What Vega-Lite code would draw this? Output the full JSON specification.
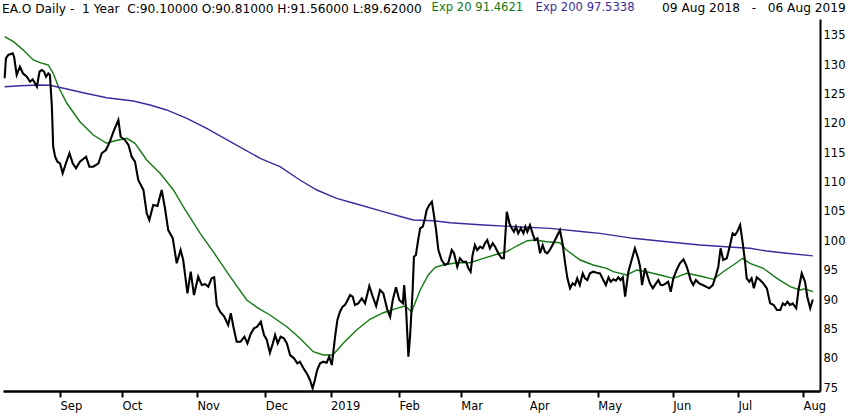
{
  "$schema": "https://vega.github.io/schema/vega-lite/v6.json",
  "width": 817,
  "height": 372,
  "autosize": {"type": "none"},
  "padding": {"left": 3, "top": 19, "right": 30, "bottom": 26},
  "background": "white",
  "config": {"view": {"stroke": null}, "font": "DejaVu Sans"},
  "title": {
    "text": "EA.O Daily -\u00a0 1 Year\u00a0 C:90.10000 O:90.81000 H:91.56000 L:89.62000",
    "anchor": "start",
    "frame": "group",
    "font": "DejaVu Sans",
    "fontSize": 12.2,
    "fontWeight": "normal",
    "color": "black",
    "offset": 3,
    "dx": -1,
    "dy": 16
  },
  "datasets": {
    "close": [
      {"day": 0, "price": 127.75}, {"day": 0.4, "price": 131.15}, {"day": 1.1, "price": 131.72}, {"day": 2.5, "price": 132.0},
      {"day": 2.9, "price": 131.43}, {"day": 3.7, "price": 128.31}, {"day": 4.7, "price": 129.72}, {"day": 5.6, "price": 128.6},
      {"day": 6.8, "price": 128.02}, {"day": 7.8, "price": 127.17}, {"day": 8.6, "price": 127.58}, {"day": 9.3, "price": 126.9},
      {"day": 9.9, "price": 126.32}, {"day": 10.7, "price": 128.87}, {"day": 11.4, "price": 129.16}, {"day": 12.1, "price": 128.87},
      {"day": 12.7, "price": 128.02}, {"day": 13.4, "price": 128.6}, {"day": 13.9, "price": 128.31}, {"day": 14.5, "price": 122.92},
      {"day": 14.9, "price": 116.11}, {"day": 15.5, "price": 114.41}, {"day": 16.2, "price": 113.56}, {"day": 17.0, "price": 113.28},
      {"day": 17.8, "price": 111.58}, {"day": 18.8, "price": 113.28}, {"day": 19.9, "price": 114.99}, {"day": 20.9, "price": 113.28},
      {"day": 21.9, "price": 112.43}, {"day": 23.1, "price": 113.56}, {"day": 25.0, "price": 114.41}, {"day": 26.0, "price": 112.71},
      {"day": 27.2, "price": 112.71}, {"day": 28.8, "price": 113.28}, {"day": 29.8, "price": 114.99}, {"day": 31.1, "price": 115.55},
      {"day": 32.3, "price": 116.96}, {"day": 33.4, "price": 118.66}, {"day": 34.9, "price": 120.65}, {"day": 35.6, "price": 117.81},
      {"day": 36.9, "price": 117.25}, {"day": 38.0, "price": 116.4}, {"day": 39.0, "price": 114.41}, {"day": 40.0, "price": 113.56},
      {"day": 41.0, "price": 110.44}, {"day": 42.6, "price": 108.74}, {"day": 43.6, "price": 104.78}, {"day": 44.4, "price": 103.64},
      {"day": 45.6, "price": 106.19}, {"day": 46.9, "price": 106.02}, {"day": 48.2, "price": 108.74}, {"day": 49.2, "price": 105.63},
      {"day": 50.2, "price": 101.93}, {"day": 51.6, "price": 100.52}, {"day": 52.8, "price": 96.27}, {"day": 54.0, "price": 98.53},
      {"day": 54.8, "price": 96.83}, {"day": 56.1, "price": 91.16}, {"day": 57.1, "price": 94.84}, {"day": 58.1, "price": 90.87},
      {"day": 59.4, "price": 93.99}, {"day": 60.5, "price": 92.57}, {"day": 61.5, "price": 92.74}, {"day": 62.5, "price": 92.29},
      {"day": 63.5, "price": 93.71}, {"day": 64.3, "price": 93.88}, {"day": 65.1, "price": 89.17}, {"day": 66.1, "price": 88.03},
      {"day": 67.3, "price": 87.3}, {"day": 68.6, "price": 85.77}, {"day": 69.4, "price": 87.76}, {"day": 70.2, "price": 85.48},
      {"day": 71.2, "price": 82.93}, {"day": 72.4, "price": 82.93}, {"day": 73.6, "price": 83.78}, {"day": 74.5, "price": 82.65},
      {"day": 75.5, "price": 84.24}, {"day": 76.5, "price": 85.2}, {"day": 77.5, "price": 85.48}, {"day": 78.6, "price": 86.33},
      {"day": 79.6, "price": 84.07}, {"day": 80.4, "price": 83.33}, {"day": 81.4, "price": 81.05}, {"day": 82.3, "price": 82.65},
      {"day": 83.0, "price": 84.07}, {"day": 83.8, "price": 82.65}, {"day": 84.7, "price": 83.78}, {"day": 85.7, "price": 83.5},
      {"day": 86.6, "price": 82.65}, {"day": 87.6, "price": 80.66}, {"day": 88.8, "price": 80.1}, {"day": 89.8, "price": 79.25},
      {"day": 90.6, "price": 79.52}, {"day": 91.7, "price": 78.4}, {"day": 92.7, "price": 77.55}, {"day": 93.7, "price": 76.41},
      {"day": 94.5, "price": 75.0}, {"day": 95.2, "price": 76.41}, {"day": 95.9, "price": 78.11}, {"day": 96.8, "price": 79.25},
      {"day": 97.8, "price": 79.52}, {"day": 98.8, "price": 79.35}, {"day": 99.6, "price": 80.37}, {"day": 100.4, "price": 78.96},
      {"day": 101.4, "price": 83.78}, {"day": 102.1, "price": 86.62}, {"day": 102.9, "price": 88.03}, {"day": 103.7, "price": 88.88},
      {"day": 104.4, "price": 89.17}, {"day": 105.0, "price": 89.73}, {"day": 106.0, "price": 90.87}, {"day": 106.8, "price": 90.58},
      {"day": 107.5, "price": 89.17}, {"day": 108.5, "price": 89.46}, {"day": 109.6, "price": 90.31}, {"day": 110.6, "price": 89.46},
      {"day": 111.9, "price": 92.4}, {"day": 112.9, "price": 90.7}, {"day": 114.0, "price": 89.0}, {"day": 115.2, "price": 91.72},
      {"day": 116.2, "price": 91.16}, {"day": 117.4, "price": 88.44}, {"day": 118.3, "price": 87.18}, {"day": 119.1, "price": 90.02},
      {"day": 120.1, "price": 92.18}, {"day": 121.1, "price": 90.02}, {"day": 122.2, "price": 89.46}, {"day": 122.6, "price": 92.57},
      {"day": 123.2, "price": 88.32}, {"day": 123.9, "price": 80.37}, {"day": 124.4, "price": 83.78}, {"day": 125.2, "price": 91.72},
      {"day": 125.6, "price": 97.39}, {"day": 126.2, "price": 97.68}, {"day": 126.9, "price": 100.23}, {"day": 127.5, "price": 102.22},
      {"day": 128.3, "price": 102.5}, {"day": 129.0, "price": 103.93}, {"day": 129.5, "price": 105.34}, {"day": 130.3, "price": 106.19},
      {"day": 131.1, "price": 106.75}, {"day": 131.8, "price": 104.2}, {"day": 132.4, "price": 101.93}, {"day": 133.1, "price": 98.53},
      {"day": 134.1, "price": 96.83}, {"day": 135.1, "price": 95.98}, {"day": 136.1, "price": 96.27}, {"day": 137.2, "price": 98.53},
      {"day": 137.9, "price": 97.97}, {"day": 138.9, "price": 95.69}, {"day": 139.7, "price": 97.12}, {"day": 140.6, "price": 96.54},
      {"day": 141.6, "price": 96.54}, {"day": 142.3, "price": 95.42}, {"day": 143.0, "price": 94.84}, {"day": 143.6, "price": 97.68},
      {"day": 144.3, "price": 99.38}, {"day": 145.0, "price": 98.53}, {"day": 145.9, "price": 99.09}, {"day": 146.7, "price": 98.82},
      {"day": 147.4, "price": 99.67}, {"day": 148.1, "price": 100.23}, {"day": 148.9, "price": 98.82}, {"day": 149.8, "price": 99.67},
      {"day": 150.5, "price": 99.09}, {"day": 151.5, "price": 97.97}, {"day": 152.5, "price": 97.12}, {"day": 153.2, "price": 97.12},
      {"day": 154.1, "price": 105.05}, {"day": 154.9, "price": 103.07}, {"day": 155.6, "price": 102.22}, {"day": 156.3, "price": 101.64},
      {"day": 156.9, "price": 102.5}, {"day": 157.6, "price": 101.37}, {"day": 158.4, "price": 102.22}, {"day": 159.2, "price": 101.37},
      {"day": 159.8, "price": 102.5}, {"day": 160.4, "price": 101.64}, {"day": 161.2, "price": 102.78}, {"day": 162.0, "price": 101.37},
      {"day": 162.7, "price": 100.23}, {"day": 163.5, "price": 100.52}, {"day": 164.3, "price": 97.97}, {"day": 165.1, "price": 99.38},
      {"day": 165.8, "price": 98.24}, {"day": 166.5, "price": 97.97}, {"day": 167.3, "price": 98.53}, {"day": 168.4, "price": 99.67},
      {"day": 169.4, "price": 100.79}, {"day": 170.4, "price": 101.93}, {"day": 171.2, "price": 99.67}, {"day": 172.0, "price": 96.27},
      {"day": 172.7, "price": 93.71}, {"day": 173.5, "price": 92.01}, {"day": 174.3, "price": 92.86}, {"day": 175.0, "price": 92.57},
      {"day": 175.7, "price": 93.71}, {"day": 176.5, "price": 92.57}, {"day": 177.4, "price": 94.56}, {"day": 178.1, "price": 93.71},
      {"day": 178.8, "price": 93.42}, {"day": 179.6, "price": 94.56}, {"day": 180.6, "price": 94.84}, {"day": 181.7, "price": 94.67},
      {"day": 182.7, "price": 94.56}, {"day": 183.7, "price": 93.42}, {"day": 184.5, "price": 92.57}, {"day": 185.3, "price": 93.88},
      {"day": 186.0, "price": 93.14}, {"day": 186.8, "price": 93.54}, {"day": 187.6, "price": 93.31}, {"day": 188.3, "price": 93.88},
      {"day": 189.0, "price": 93.42}, {"day": 189.7, "price": 93.88}, {"day": 190.4, "price": 90.58}, {"day": 191.4, "price": 94.84},
      {"day": 192.4, "price": 96.83}, {"day": 193.4, "price": 98.82}, {"day": 194.4, "price": 97.12}, {"day": 195.0, "price": 95.69},
      {"day": 195.6, "price": 92.57}, {"day": 196.5, "price": 95.42}, {"day": 197.2, "price": 94.28}, {"day": 198.0, "price": 92.86},
      {"day": 198.9, "price": 92.01}, {"day": 199.9, "price": 92.86}, {"day": 200.6, "price": 93.42}, {"day": 201.3, "price": 92.57},
      {"day": 202.1, "price": 92.57}, {"day": 202.9, "price": 92.86}, {"day": 203.6, "price": 93.14}, {"day": 204.4, "price": 91.43},
      {"day": 205.2, "price": 93.71}, {"day": 206.2, "price": 95.13}, {"day": 207.2, "price": 96.27}, {"day": 208.3, "price": 96.95},
      {"day": 209.1, "price": 95.98}, {"day": 209.8, "price": 94.84}, {"day": 210.5, "price": 93.42}, {"day": 211.3, "price": 92.57},
      {"day": 212.1, "price": 93.42}, {"day": 213.1, "price": 92.86}, {"day": 214.2, "price": 92.57}, {"day": 215.2, "price": 92.29},
      {"day": 216.2, "price": 92.01}, {"day": 217.3, "price": 92.57}, {"day": 218.3, "price": 94.28}, {"day": 219.0, "price": 95.69},
      {"day": 219.7, "price": 98.82}, {"day": 220.5, "price": 96.83}, {"day": 221.6, "price": 97.12}, {"day": 222.6, "price": 99.38},
      {"day": 223.4, "price": 101.37}, {"day": 224.1, "price": 101.08}, {"day": 224.8, "price": 101.64}, {"day": 225.7, "price": 102.78},
      {"day": 226.5, "price": 99.67}, {"day": 227.2, "price": 96.54}, {"day": 227.7, "price": 93.71}, {"day": 228.5, "price": 93.14},
      {"day": 229.2, "price": 93.71}, {"day": 229.9, "price": 92.01}, {"day": 230.8, "price": 93.88}, {"day": 231.8, "price": 93.42},
      {"day": 232.8, "price": 92.86}, {"day": 233.9, "price": 92.01}, {"day": 234.9, "price": 89.46}, {"day": 236.0, "price": 89.17},
      {"day": 237.0, "price": 88.32}, {"day": 238.0, "price": 88.32}, {"day": 238.8, "price": 89.46}, {"day": 239.5, "price": 89.17},
      {"day": 240.2, "price": 89.73}, {"day": 241.0, "price": 89.17}, {"day": 241.8, "price": 89.46}, {"day": 242.9, "price": 88.61},
      {"day": 243.6, "price": 91.72}, {"day": 244.6, "price": 94.56}, {"day": 245.6, "price": 93.14}, {"day": 246.3, "price": 90.58},
      {"day": 247.2, "price": 88.61}, {"day": 248.0, "price": 90.1}
    ],
    "ema": [
      {"series": "Exp 20", "day": 0, "price": 134.83}, {"series": "Exp 20", "day": 2.7, "price": 133.98},
      {"series": "Exp 20", "day": 5.7, "price": 132.57}, {"series": "Exp 20", "day": 8.8, "price": 130.86},
      {"series": "Exp 20", "day": 10.9, "price": 130.41}, {"series": "Exp 20", "day": 13.4, "price": 130.01},
      {"series": "Exp 20", "day": 14.9, "price": 128.6}, {"series": "Exp 20", "day": 16.5, "price": 126.32},
      {"series": "Exp 20", "day": 19.1, "price": 123.5}, {"series": "Exp 20", "day": 23.1, "price": 120.36},
      {"series": "Exp 20", "day": 27.2, "price": 118.1}, {"series": "Exp 20", "day": 31.3, "price": 116.69},
      {"series": "Exp 20", "day": 33.9, "price": 117.13}, {"series": "Exp 20", "day": 37.5, "price": 117.54},
      {"series": "Exp 20", "day": 40.0, "price": 116.69}, {"series": "Exp 20", "day": 43.6, "price": 113.85},
      {"series": "Exp 20", "day": 47.7, "price": 111.58}, {"series": "Exp 20", "day": 51.8, "price": 108.74},
      {"series": "Exp 20", "day": 54.8, "price": 105.9}, {"series": "Exp 20", "day": 60.0, "price": 101.37},
      {"series": "Exp 20", "day": 64.0, "price": 98.24}, {"series": "Exp 20", "day": 69.2, "price": 93.99},
      {"series": "Exp 20", "day": 74.3, "price": 90.02}, {"series": "Exp 20", "day": 77.4, "price": 88.78},
      {"series": "Exp 20", "day": 81.4, "price": 87.47}, {"series": "Exp 20", "day": 86.6, "price": 85.48},
      {"series": "Exp 20", "day": 90.6, "price": 83.5}, {"series": "Exp 20", "day": 94.7, "price": 81.22},
      {"series": "Exp 20", "day": 97.8, "price": 80.66}, {"series": "Exp 20", "day": 100.7, "price": 80.66},
      {"series": "Exp 20", "day": 103.9, "price": 82.65}, {"series": "Exp 20", "day": 108.0, "price": 84.92},
      {"series": "Exp 20", "day": 112.1, "price": 86.74}, {"series": "Exp 20", "day": 116.2, "price": 87.86},
      {"series": "Exp 20", "day": 120.3, "price": 88.61}, {"series": "Exp 20", "day": 122.9, "price": 89.0},
      {"series": "Exp 20", "day": 124.9, "price": 88.03}, {"series": "Exp 20", "day": 127.5, "price": 91.72},
      {"series": "Exp 20", "day": 130.0, "price": 94.28}, {"series": "Exp 20", "day": 132.1, "price": 95.59},
      {"series": "Exp 20", "day": 134.6, "price": 95.98}, {"series": "Exp 20", "day": 138.7, "price": 96.37},
      {"series": "Exp 20", "day": 142.8, "price": 96.37}, {"series": "Exp 20", "day": 146.9, "price": 97.12},
      {"series": "Exp 20", "day": 151.3, "price": 97.85}, {"series": "Exp 20", "day": 154.1, "price": 98.24},
      {"series": "Exp 20", "day": 157.1, "price": 99.21}, {"series": "Exp 20", "day": 160.4, "price": 100.11},
      {"series": "Exp 20", "day": 163.0, "price": 100.23}, {"series": "Exp 20", "day": 166.3, "price": 99.94},
      {"series": "Exp 20", "day": 170.4, "price": 99.77}, {"series": "Exp 20", "day": 172.4, "price": 98.53},
      {"series": "Exp 20", "day": 176.6, "price": 96.83}, {"series": "Exp 20", "day": 180.6, "price": 95.98},
      {"series": "Exp 20", "day": 184.7, "price": 95.42}, {"series": "Exp 20", "day": 186.8, "price": 94.84},
      {"series": "Exp 20", "day": 190.9, "price": 94.28}, {"series": "Exp 20", "day": 194.0, "price": 95.13},
      {"series": "Exp 20", "day": 197.0, "price": 94.84}, {"series": "Exp 20", "day": 201.1, "price": 94.28},
      {"series": "Exp 20", "day": 205.2, "price": 93.71}, {"series": "Exp 20", "day": 209.3, "price": 94.56},
      {"series": "Exp 20", "day": 213.4, "price": 94.11}, {"series": "Exp 20", "day": 217.5, "price": 93.54},
      {"series": "Exp 20", "day": 220.5, "price": 94.84}, {"series": "Exp 20", "day": 223.6, "price": 95.98},
      {"series": "Exp 20", "day": 226.5, "price": 97.12}, {"series": "Exp 20", "day": 228.7, "price": 96.27},
      {"series": "Exp 20", "day": 232.8, "price": 95.42}, {"series": "Exp 20", "day": 237.0, "price": 93.71},
      {"series": "Exp 20", "day": 241.0, "price": 92.29}, {"series": "Exp 20", "day": 244.1, "price": 91.72},
      {"series": "Exp 20", "day": 245.6, "price": 91.94}, {"series": "Exp 20", "day": 248.0, "price": 91.46},
      {"series": "Exp 200", "day": 0, "price": 126.32}, {"series": "Exp 200", "day": 4.7, "price": 126.49},
      {"series": "Exp 200", "day": 10.9, "price": 126.61}, {"series": "Exp 200", "day": 13.9, "price": 126.56},
      {"series": "Exp 200", "day": 19.1, "price": 125.93}, {"series": "Exp 200", "day": 24.1, "price": 125.3},
      {"series": "Exp 200", "day": 31.3, "price": 124.45}, {"series": "Exp 200", "day": 39.5, "price": 123.89},
      {"series": "Exp 200", "day": 44.6, "price": 123.21}, {"series": "Exp 200", "day": 49.7, "price": 122.36},
      {"series": "Exp 200", "day": 55.9, "price": 120.94}, {"series": "Exp 200", "day": 62.0, "price": 119.24},
      {"series": "Exp 200", "day": 70.2, "price": 116.69}, {"series": "Exp 200", "day": 78.4, "price": 114.14},
      {"series": "Exp 200", "day": 84.5, "price": 112.71}, {"series": "Exp 200", "day": 90.6, "price": 110.44},
      {"series": "Exp 200", "day": 95.8, "price": 108.74}, {"series": "Exp 200", "day": 101.9, "price": 107.33},
      {"series": "Exp 200", "day": 108.0, "price": 106.36}, {"series": "Exp 200", "day": 116.2, "price": 105.05},
      {"series": "Exp 200", "day": 122.3, "price": 104.1}, {"series": "Exp 200", "day": 125.4, "price": 103.64},
      {"series": "Exp 200", "day": 131.5, "price": 103.52}, {"series": "Exp 200", "day": 136.7, "price": 103.18},
      {"series": "Exp 200", "day": 146.9, "price": 102.78}, {"series": "Exp 200", "day": 157.1, "price": 102.5},
      {"series": "Exp 200", "day": 167.4, "price": 102.22}, {"series": "Exp 200", "day": 177.6, "price": 101.64},
      {"series": "Exp 200", "day": 182.7, "price": 101.37}, {"series": "Exp 200", "day": 192.9, "price": 100.52},
      {"series": "Exp 200", "day": 203.2, "price": 99.94}, {"series": "Exp 200", "day": 213.4, "price": 99.38},
      {"series": "Exp 200", "day": 223.6, "price": 98.99}, {"series": "Exp 200", "day": 228.7, "price": 98.82},
      {"series": "Exp 200", "day": 233.8, "price": 98.36}, {"series": "Exp 200", "day": 240.0, "price": 97.97},
      {"series": "Exp 200", "day": 248.0, "price": 97.53}
    ]
  },
  "encoding": {
    "x": {
      "field": "day",
      "type": "quantitative",
      "scale": {"domain": [-0.5, 250.2], "nice": false, "zero": false},
      "axis": {
        "orient": "bottom",
        "title": null,
        "grid": false,
        "values": [17, 36, 59, 80, 100, 121, 140, 161, 182, 205, 225, 245],
        "labelExpr": "['Sep','Oct','Nov','Dec','2019','Feb','Mar','Apr','May','Jun','Jul','Aug'][indexof([17,36,59,80,100,121,140,161,182,205,225,245], datum.value)]",
        "domainColor": "black",
        "domainWidth": 2.5,
        "tickColor": "black",
        "tickWidth": 2,
        "tickSize": 6,
        "labelAlign": "left",
        "labelFont": "DejaVu Sans",
        "labelFontSize": 11.5,
        "labelColor": "black",
        "labelPadding": 3,
        "labelFlush": false,
        "labelOverlap": false,
        "labelBound": false
      }
    },
    "y": {
      "field": "price",
      "type": "quantitative",
      "scale": {"domain": [74.54, 137.84], "nice": false, "zero": false},
      "axis": {
        "orient": "right",
        "title": null,
        "grid": false,
        "values": [75, 80, 85, 90, 95, 100, 105, 110, 115, 120, 125, 130, 135],
        "ticks": false,
        "domainColor": "black",
        "domainWidth": 2,
        "labelFont": "DejaVu Sans",
        "labelFontSize": 11.5,
        "labelColor": "black",
        "labelPadding": 3,
        "labelFlush": false,
        "labelOverlap": false
      }
    }
  },
  "layer": [
    {
      "data": {"values": [{"label": "ELECTRONIC ARTS INC. - COMMON STOCK"}]},
      "mark": {"type": "text", "font": "Liberation Sans Narrow", "fontSize": 28, "color": "#efefef", "align": "center", "baseline": "middle"},
      "encoding": {
        "text": {"field": "label"},
        "x": {"datum": 125, "type": "quantitative"},
        "y": {"datum": 77.8, "type": "quantitative"}
      }
    },
    {
      "data": {"name": "ema"},
      "mark": {"type": "line", "strokeWidth": 1.4},
      "encoding": {
        "color": {
          "field": "series",
          "type": "nominal",
          "scale": {"domain": ["Exp 20", "Exp 200"], "range": ["#137a13", "#3b2a9c"]},
          "legend": {
            "orient": "none",
            "legendX": 417,
            "legendY": -17,
            "direction": "horizontal",
            "title": "09 Aug 2018\u00a0\u00a0\u00a0-\u00a0\u00a0\u00a006 Aug 2019",
            "titleOrient": "right",
            "titlePadding": 27,
            "titleFont": "DejaVu Sans",
            "titleFontSize": 12.2,
            "titleFontWeight": "normal",
            "titleColor": "black",
            "titleLimit": 400,
            "labelFont": "DejaVu Sans",
            "labelFontSize": 11.6,
            "labelOffset": 0,
            "symbolSize": 0,
            "symbolOpacity": 0,
            "symbolStrokeWidth": 0,
            "columnPadding": -3,
            "labelExpr": "datum.label == 'Exp 20' ? 'Exp 20 91.4621' : 'Exp 200 97.5338'",
            "encode": {"labels": {"update": {"fill": {"scale": "color", "field": "value"}}}}
          }
        }
      }
    },
    {
      "data": {"name": "close"},
      "mark": {"type": "line", "color": "black", "strokeWidth": 2.1}
    }
  ]
}
